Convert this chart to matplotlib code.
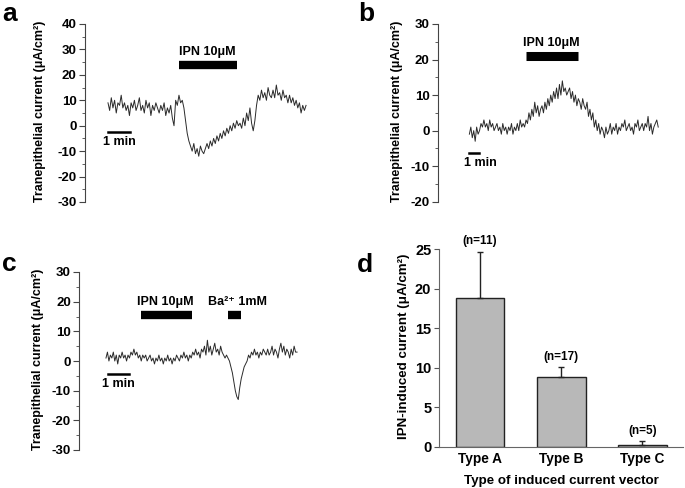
import numpy as np
import matplotlib.pyplot as plt

plt.rcParams['font.family'] = ['Liberation Sans', 'DejaVu Sans']
plt.rcParams['font.weight'] = 'bold'
plt.rcParams['axes.unicode_minus'] = False

# ---- panel a trace (uA/cm2), one sample every 0.075 min ----
dt_a = 0.075
trace_a = [9, 6, 11, 7, 10, 5, 9, 8, 12, 7,
           9, 6, 8, 4, 9, 7, 10, 6, 8, 11,
           6, 8, 5, 10, 7, 9, 4, 8, 6, 9,
           7, 5, 8, 6, 9, 4, 7, 5, 8, 3,
           0, 10, 8, 12, 9, 10, 7, 2, -3, -6,
           -8, -10, -7, -11, -9, -12, -8, -10, -11, -9,
           -7, -9, -6, -8, -5, -7, -4, -6, -3, -5,
           -2, -4, -1, -3, 0, -2, 1, -1, 2, 0,
           1, -1, 3, 0, 5, 2, 7, 1, -2, 2,
           8, 12, 10, 14, 11, 13, 10, 15, 12, 11,
           14, 11, 16, 12, 13, 10, 14, 11, 12, 9,
           12, 9, 11, 8, 10, 7, 9, 5, 8, 6,
           8]

# ---- panel b trace, one sample every 0.15 min ----
dt_b = 0.15
trace_b = [-1, 1, -2, 0, -3, 1, -1, 0, 2, 1,
           3, 1, 2, 0, 3, 1, 2, 0, 1, 2,
           0, 1, -1, 2, 0, 1, -1, 1, 0, 2,
           -1, 1, 0, 2, 0, 3, 1, 2, 1, 3,
           2, 5, 3, 6, 4, 8, 5, 7, 4, 6,
           7, 5, 8, 6, 9, 7, 10, 8, 11, 9,
           12, 9, 13, 10, 14, 11, 12, 10, 11, 12,
           9, 11, 8, 10, 7, 9, 8, 6, 9, 7,
           6, 8, 4, 6, 3, 5, 1, 3, 0, 2,
           -1, 1, 0, -2, 1, -1, 0, 2, -1, 1,
           0, 2, -1, 1, 0, 2, 1, 3, 0, 1,
           2, 0, 1, -1, 2, 1, 3, 0, 1, 2,
           0, 2, 1, 4, 0, 2, -1, 1, 2, 3,
           1]

# ---- panel c trace, one sample every 0.07 min ----
dt_c = 0.07
trace_c = [1, 3, 0, 2, 1, 3, 0, 2, -1, 2,
           1, 3, 1, 2, 0, 2, 1, 3, 2, 4,
           2, 3, 1, 2, 0, 2, 1, 2, 0, 1,
           2, 0, 1, -1, 1, 0, 2, 0, 1, -1,
           1, 0, 2, 0, 1, -1, 1, 0, 2, 1,
           0, 2, 1, 3, 1, 2, 0, 2, 1, 3,
           2, 4, 2, 3, 1, 4, 3, 5, 2, 7,
           3, 5, 2, 4, 6, 3, 4, 2, 5, 3,
           2, 1, 2, 1, 0, -2, -4, -7, -10, -12,
           -13, -9, -6, -4, -2, -1, 0, 2, 1, 3,
           2, 4, 2, 3, 1, 3, 2, 4, 3, 2,
           4, 2, 3, 5, 2, 4, 3, 1, 4, 6,
           3, 5, 2, 4, 3, 1, 4, 2, 5, 3,
           3]

# ---- panel d bars ----
types = ['Type A', 'Type B', 'Type C']
mean_d = [18.8, 8.85, 0.25]
err_d = [5.9, 1.25, 0.45]
n_d = ['(n=11)', '(n=17)', '(n=5)']

ylab = 'Tranepithelial current (μA/cm²)'
W, H = 685, 488
fig = plt.figure(figsize=(W / 100, H / 100), dpi=100)


def px_axes(x0, y0, x1, y1):
    return fig.add_axes([x0 / W, 1 - y1 / H, (x1 - x0) / W, (y1 - y0) / H])


def trace_axes(ax, ylim, step):
    for s in ['top', 'right', 'bottom']:
        ax.spines[s].set_visible(False)
    ax.spines['left'].set_color('#444444')
    ax.set_ylim(*ylim)
    ax.set_yticks(np.arange(ylim[0], ylim[1] + 1, step))
    ax.set_yticks(np.arange(ylim[0], ylim[1] + 1, step / 2), minor=True)
    ax.set_xticks([])
    ax.tick_params(axis='y', which='major', length=4, width=0.8, pad=2,
                   labelsize=9.5, colors='#444444', labelcolor='black')
    ax.tick_params(axis='y', which='minor', length=2, width=0.6, colors='#444444')
    for t in ax.get_yticklabels():
        t.set_fontweight('bold')


def drug_bar(ax, t0, t1, y, lw=6):
    ax.plot([t0, t1], [y, y], color='black', lw=lw, solid_capstyle='butt')


FS = 9

# panel a
ax = px_axes(85, 24, 310, 202)
t = np.arange(len(trace_a)) * dt_a
ax.plot(t, trace_a, color='#2a2a2a', lw=0.7)
ax.set_xlim(-1.045, 9.18)
trace_axes(ax, (-30, 40), 10)
drug_bar(ax, 3.23, 5.86, 24)
ax.text(4.5, 28.8, 'IPN 10μM', ha='center', va='center', fontsize=FS, fontweight='bold')
ax.plot([0, 1], [-2.4, -2.4], color='black', lw=1.8)
ax.text(0.5, -6.4, '1 min', ha='center', va='center', fontsize=FS, fontweight='bold')

# panel b
ax = px_axes(438, 24, 665, 201.7)
t = np.arange(len(trace_b)) * dt_b
ax.plot(t, trace_b, color='#2a2a2a', lw=0.7)
ax.set_xlim(-3.24, 20.2)
trace_axes(ax, (-20, 30), 10)
drug_bar(ax, 5.86, 11.17, 20.9, lw=6.5)
ax.text(8.5, 24.6, 'IPN 10μM', ha='center', va='center', fontsize=FS, fontweight='bold')
ax.plot([0, 1], [-6.3, -6.3], color='black', lw=1.8)
ax.text(1.1, -9.0, '1 min', ha='center', va='center', fontsize=FS, fontweight='bold')

# panel c
ax = px_axes(79.3, 272, 300, 450)
t = np.arange(len(trace_c)) * dt_c
ax.plot(t, trace_c, color='#2a2a2a', lw=0.7)
ax.set_xlim(-1.27, 9.24)
trace_axes(ax, (-30, 30), 10)
drug_bar(ax, 1.65, 4.08, 15.6)
drug_bar(ax, 5.81, 6.41, 15.6)
ax.text(2.81, 20.0, 'IPN 10μM', ha='center', va='center', fontsize=FS, fontweight='bold')
ax.text(6.24, 20.0, 'Ba²⁺ 1mM', ha='center', va='center', fontsize=FS, fontweight='bold')
ax.plot([0.11, 1.11], [-4.5, -4.5], color='black', lw=1.8)
ax.text(0.59, -7.8, '1 min', ha='center', va='center', fontsize=FS, fontweight='bold')

# panel d
ax = px_axes(439, 249.3, 683, 446.7)
x = np.arange(len(types))
ax.bar(x, mean_d, width=0.6, color='#b8b8b8', edgecolor='#222222', linewidth=1.0, zorder=2)
ax.errorbar(x, mean_d, yerr=[np.zeros(len(x)), err_d], fmt='none', ecolor='#222222',
            elinewidth=1.0, capsize=2.5, capthick=1.0, zorder=3)
for xi, m, e, n in zip(x, mean_d, err_d, n_d):
    ax.text(xi, m + e + 1.3, n, ha='center', va='center', fontsize=8.5, fontweight='bold',
            clip_on=False)
ax.set_xlim(-0.506, 2.5)
ax.set_ylim(0, 25)
ax.set_yticks(np.arange(0, 26, 5))
ax.set_xticks(x)
ax.set_xticklabels(types, fontsize=9.8, fontweight='bold')
for tl in ax.get_yticklabels():
    tl.set_fontweight('bold')
ax.tick_params(axis='y', length=3.5, width=0.8, pad=2, labelsize=10.5, colors='#555555',
               labelcolor='black')
ax.tick_params(axis='x', length=0, pad=4)
for s in ['top', 'right']:
    ax.spines[s].set_visible(False)
ax.spines['left'].set_color('#666666')
ax.spines['bottom'].set_color('#666666')
ax.set_xlabel('Type of induced current vector', fontsize=9.6, fontweight='bold', labelpad=6)

# y labels and panel letters
for lx, ly in [(40, 111.7), (397, 111), (38, 359)]:
    fig.text(lx / W, 1 - ly / H, ylab, rotation=90, ha='center', va='center', fontsize=9,
             fontweight='bold')
fig.text(404 / W, 1 - 346.7 / H, 'IPN-induced current (μA/cm²)', rotation=90, ha='center',
         va='center', fontsize=9.6, fontweight='bold')
for lab, lx, ly in [('a', 9.5, 20.7), ('b', 366.5, 20.7), ('c', 9, 271), ('d', 364.5, 271.5)]:
    fig.text(lx / W, 1 - ly / H, lab, ha='center', va='baseline', fontsize=19,
             fontweight='bold')

fig.savefig('out.png', dpi=100)
